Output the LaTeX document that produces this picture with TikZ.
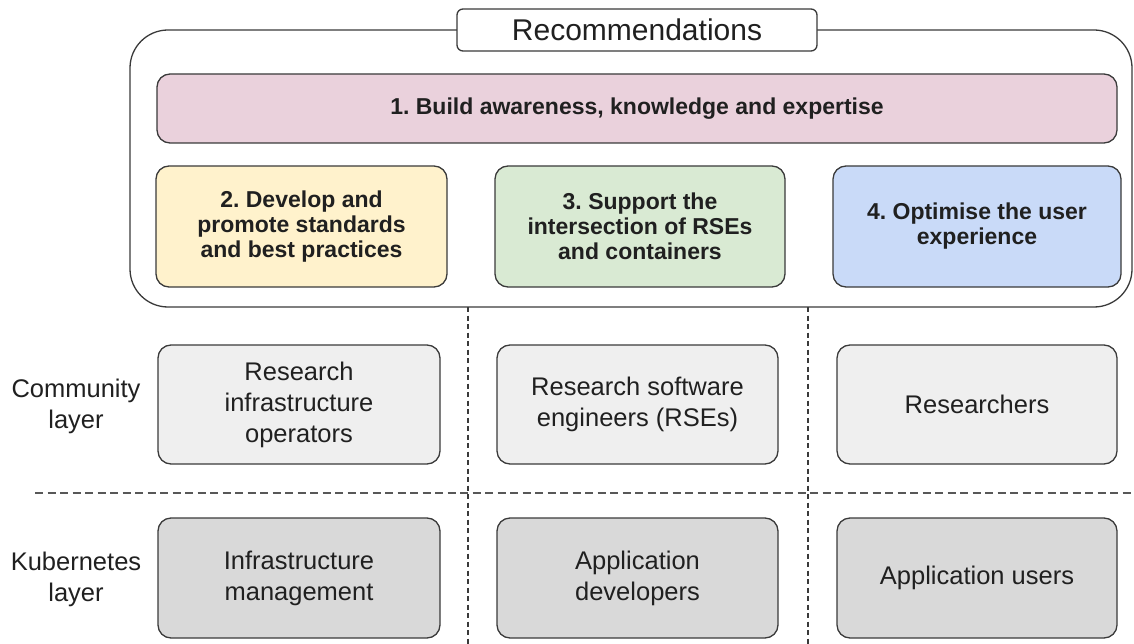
\documentclass[tikz,border=0pt]{standalone}
\usepackage{fontspec}
\setmainfont{Liberation Sans}
\frenchspacing
\definecolor{linec}{HTML}{3A3A3A}
\definecolor{txt}{HTML}{202020}
\definecolor{cpink}{HTML}{EAD1DC}
\definecolor{cyellow}{HTML}{FFF2CC}
\definecolor{cgreen}{HTML}{D9EAD3}
\definecolor{cblue}{HTML}{C9DAF8}
\definecolor{clight}{HTML}{EFEFEF}
\definecolor{cdark}{HTML}{D9D9D9}
\begin{document}
\begin{tikzpicture}[x=1pt,y=-1pt,
  box/.style={draw=linec, line width=1.3pt, rounded corners=13pt, align=center, inner sep=0pt, text=txt},
  recbox/.style={box, font=\bfseries\fontsize{23}{25}\selectfont},
  grpbox/.style={box, font=\fontsize{25.5}{31}\selectfont},
  lbl/.style={align=center, inner sep=0pt, text=txt, font=\fontsize{25.5}{31}\selectfont},
  vsep/.style={draw=linec, line width=1.1pt, dash pattern=on 5pt off 3.5pt},
  hsep/.style={draw=linec!85, line width=1.4pt, dash pattern=on 8pt off 4.5pt}]
\useasboundingbox (0,0) rectangle (1134,644);
% container
\node[draw=linec, line width=1.3pt, rounded corners=38pt, minimum width=1002pt, minimum height=277pt, inner sep=0pt] (cont) at (631,168.5) {};
\node[draw=linec, line width=1.3pt, fill=white, rounded corners=6pt, minimum width=360pt, minimum height=42pt, inner sep=0pt, text=txt, font=\fontsize{30}{34}\selectfont] (title) at (637,30) {Recommendations};
% recommendations
\node[recbox, fill=cpink, minimum width=960pt, minimum height=69pt] (r1) at (637,108.5) {1. Build awareness, knowledge and expertise};
\node[recbox, fill=cyellow, minimum width=291pt, minimum height=121pt] (r2) at (301.5,226.5) {2. Develop and\\promote standards\\and best practices};
\node[recbox, fill=cgreen, minimum width=290pt, minimum height=121pt] (r3) at (640,226.5) {3. Support the\\intersection of RSEs\\and containers};
\node[recbox, fill=cblue, minimum width=288pt, minimum height=121pt] (r4) at (977,226.5) {4. Optimise the user\\experience};
% separators
\coordinate (v1t) at (468,307); \coordinate (v1b) at (468,644);
\coordinate (v2t) at (808,307); \coordinate (v2b) at (808,644);
\coordinate (hl) at (35,493); \coordinate (hr) at (1134,493);
\draw[vsep] (v1t) -- (v1b);
\draw[vsep] (v2t) -- (v2b);
\draw[hsep] (hl) -- (hr);
% layer labels
\node[lbl] (lcom) at (76,406) {Community\\layer};
\node[lbl] (lkub) at (76,579) {Kubernetes\\layer};
% community layer
\node[grpbox, fill=clight, minimum width=282pt, minimum height=119pt] (c1) at (299,404.5) {Research\\infrastructure\\operators};
\node[grpbox, fill=clight, minimum width=281pt, minimum height=119pt] (c2) at (637.5,404.5) {Research software\\engineers (RSEs)};
\node[grpbox, fill=clight, minimum width=280pt, minimum height=119pt] (c3) at (977,404.5) {Researchers};
% kubernetes layer
\node[grpbox, fill=cdark, minimum width=282pt, minimum height=120pt] (k1) at (299,578) {Infrastructure\\management};
\node[grpbox, fill=cdark, minimum width=281pt, minimum height=120pt] (k2) at (637.5,578) {Application\\developers};
\node[grpbox, fill=cdark, minimum width=280pt, minimum height=120pt] (k3) at (977,578) {Application users};
\end{tikzpicture}
\end{document}
